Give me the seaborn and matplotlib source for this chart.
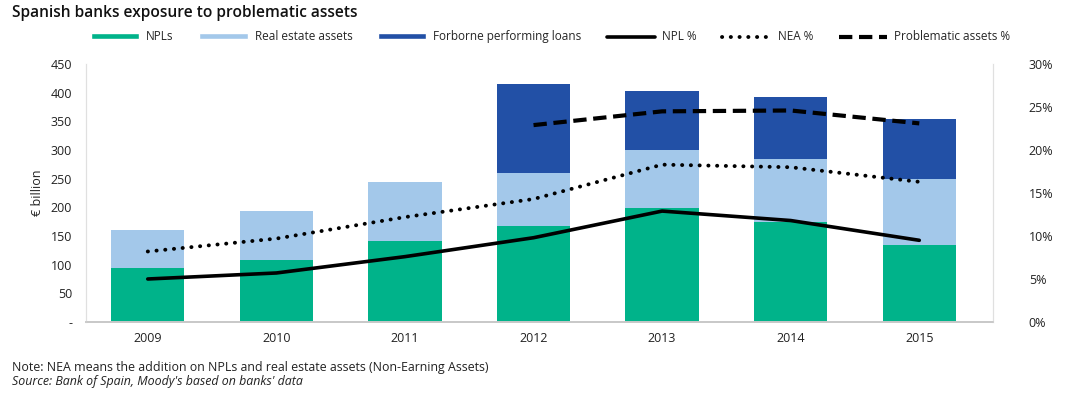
import numpy as np
import pandas as pd
import matplotlib
matplotlib.use("Agg")
from matplotlib import pyplot as plt
from matplotlib.lines import Line2D
from matplotlib.patches import Patch
import seaborn as sns

# data (EUR billion / %)
years = ["2009", "2010", "2011", "2012", "2013", "2014", "2015"]
npls = [94, 108, 141, 168, 198, 174, 135]
real_estate = [66, 86, 104, 92, 102, 111, 114]
forborne = [0, 0, 0, 155, 103, 107, 105]
npl_pct = [5.0, 5.7, 7.6, 9.8, 12.9, 11.8, 9.5]
nea_pct = [8.2, 9.7, 12.2, 14.3, 18.3, 18.0, 16.3]
prob_pct = [np.nan, np.nan, np.nan, 22.9, 24.5, 24.6, 23.1]

green = "#00B38A"
light_blue = "#A3C8EA"
dark_blue = "#2250A6"

df = pd.DataFrame({"year": years, "npl": npls, "re": real_estate, "fb": forborne})
df["npl_re"] = df["npl"] + df["re"]
df["total"] = df["npl_re"] + df["fb"]

sns.set_style("white")
plt.rcParams["font.family"] = ["Open Sans", "DejaVu Sans"]

fig = plt.figure(figsize=(10.65, 3.93), dpi=100)
ax = fig.add_axes([0.0808, 0.1807, 0.8512, 0.6563])

# stacked bars drawn as overlapping cumulative totals
for col, c in [("total", dark_blue), ("npl_re", light_blue), ("npl", green)]:
    sns.barplot(data=df, x="year", y=col, color=c, width=0.57, saturation=1,
                linewidth=0, ax=ax)

ax.set_ylim(0, 450)
ax.set_xlim(-0.48, 6.57)
ax.set_yticks(range(0, 451, 50))
ax.set_yticklabels(["-"] + [str(v) for v in range(50, 451, 50)])
ax.set_xlabel("")
ax.set_ylabel("€ billion", fontsize=9, color="#222222", labelpad=5)
ax.tick_params(axis="both", length=0, labelsize=9, colors="#222222")
ax.tick_params(axis="y", pad=10)
ax.tick_params(axis="x", pad=7)

# percentage lines on the right axis
ax2 = ax.twinx()
pos = np.arange(len(years))
lines = pd.DataFrame({"x": pos, "npl": npl_pct, "nea": nea_pct, "prob": prob_pct})
sns.lineplot(data=lines, x="x", y="npl", color="black", linewidth=2.6, ax=ax2)
l2 = sns.lineplot(data=lines, x="x", y="nea", color="black", linewidth=2.8, ax=ax2).lines[-1]
l2.set_dashes((0.05, 2.2))
l2.set_dash_capstyle("round")
l3 = sns.lineplot(data=lines, x="x", y="prob", color="black", linewidth=3, ax=ax2).lines[-1]
l3.set_dashes((3.2, 1.6))
ax2.set_ylim(0, 30)
ax2.set_yticks(range(0, 31, 5))
ax2.set_yticklabels([f"{v}%" for v in range(0, 31, 5)])
ax2.set_ylabel("")
ax2.tick_params(axis="y", length=0, labelsize=9, colors="#222222", pad=26)
ax2.set_xlim(-0.48, 6.57)

for a in (ax, ax2):
    a.spines["top"].set_visible(False)
    a.spines["left"].set_color("#e0e0e0")
    a.spines["right"].set_color("#e0e0e0")
    a.spines["bottom"].set_color("#c8c8c8")
    a.spines["bottom"].set_linewidth(1.2)

# legend
handles = [
    Patch(facecolor=green, label="NPLs"),
    Patch(facecolor=light_blue, label="Real estate assets"),
    Patch(facecolor=dark_blue, label="Forborne performing loans"),
    Line2D([], [], color="black", linewidth=2.6, label="NPL %"),
    Line2D([], [], color="black", linewidth=2.8, dashes=(0.05, 2.2),
           dash_capstyle="round", label="NEA %"),
    Line2D([], [], color="black", linewidth=3, dashes=(3.2, 1.6), label="Problematic assets %"),
]
fig.legend(handles=handles, loc="center", bbox_to_anchor=(0.517, 0.906), ncol=6,
           frameon=False, fontsize=8.5, handlelength=4.1, handleheight=0.45,
           columnspacing=2.15, handletextpad=0.6)

fig.text(0.011, 0.966, "Spanish banks exposure to problematic assets", fontsize=11.2,
         fontweight="semibold", va="center", ha="left", color="#111111")
fig.text(0.011, 0.064, "Note: NEA means the addition on NPLs and real estate assets (Non-Earning Assets)",
         fontsize=8.9, va="center", ha="left", color="#222222")
fig.text(0.011, 0.028, "Source: Bank of Spain, Moody's based on banks' data",
         fontsize=8.9, style="italic", va="center", ha="left", color="#222222")

fig.savefig("out.png", dpi=100)
